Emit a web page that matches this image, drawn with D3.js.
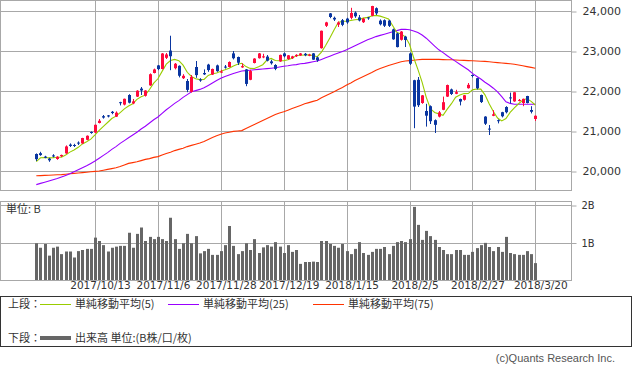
<!DOCTYPE html>
<html><head><meta charset="utf-8">
<script src="https://cdn.jsdelivr.net/npm/d3@7"></script>
<style>body{margin:0;background:#fff}svg{display:block}</style>
</head><body>
<svg id="chart" width="633" height="370"></svg>
<script>
// ---- data ----
const tickIndex = [14, 29, 44, 59, 74, 89, 104, 119];
const tickLabels = ["2017/10/13", "2017/11/6", "2017/11/28", "2017/12/19", "2018/1/15", "2018/2/5", "2018/2/27", "2018/3/20"];
const priceTicks = [20000, 21000, 22000, 23000, 24000];
const priceTickLabels = ["20,000", "21,000", "22,000", "23,000", "24,000"];
const volTicks = [1, 2];
const volTickLabels = ["1B", "2B"];

const open = [20425,20445,20360,20310,20390,20300,20370,20440,20660,20650,20710,20690,20780,20975,20960,21200,21370,21390,21480,21360,
21720,21660,21900,21690,21860,22060,21880,22140,22450,22640,22550,22830,23010,22570,22630,22320,22250,21980,22600,22290,
22450,22660,22410,22640,22460,22610,22600,22940,22850,22590,22540,22280,22700,22820,22840,22860,22740,22650,22740,22940,
22800,22820,22870,22890,22930,22880,22940,22840,23070,23630,23940,23830,23660,23770,23810,23830,23960,23840,23720,23840,
23880,24070,23760,23770,23760,23540,23440,23280,23360,22940,22270,22280,21700,21500,21620,21270,21360,21530,21860,22040,
21930,21800,21780,22070,22400,22320,21900,21360,21060,21380,21270,21470,21600,21840,21740,21760,21700,21875,21525,21300];
const high = [20440,20480,20380,20330,20420,20370,20410,20640,20690,20680,20740,20830,20890,20990,21160,21300,21400,21400,21500,21490,
21730,21810,21920,21800,22020,22100,22020,22440,22560,22650,22950,22950,23382,22700,22640,22420,22300,22400,22750,22320,
22540,22680,22560,22660,22530,22650,22740,23000,22860,22690,22550,22530,22820,22950,22930,22900,22780,22670,22910,22960,
22900,22880,22920,22950,22950,22930,22950,22860,23510,23730,23950,23860,23740,23800,23830,24080,23990,23900,23830,23850,
24130,24090,23790,23790,23780,23560,23460,23500,23380,22960,22280,22350,21900,21680,21640,21290,21500,21860,22160,22060,
22030,21810,21900,22200,22410,22330,21910,21370,21150,21520,21290,21480,21620,21960,21970,21800,21810,21880,21620,21390];
const low = [20250,20380,20320,20230,20340,20280,20350,20430,20600,20600,20650,20680,20770,20930,20950,21190,21310,21340,21420,21350,
21640,21640,21690,21670,21850,21900,21860,22130,22440,22520,22540,22800,22520,22540,22340,22300,21970,21960,22330,22230,
22400,22480,22400,22480,22450,22560,22590,22790,22650,22580,22120,22270,22690,22810,22820,22740,22660,22520,22730,22840,
22780,22800,22850,22880,22870,22870,22780,22730,23060,23600,23820,23750,23600,23620,23680,23790,23830,23740,23700,23780,
23870,23900,23640,23600,23600,23280,23090,23260,23100,22650,21070,21600,21680,21110,21175,20950,21340,21520,21850,21900,
21920,21640,21760,22060,22340,22040,21700,21150,20900,21370,21190,21340,21440,21690,21730,21740,21620,21690,21440,21250];
const close = [20296,20398,20330,20267,20363,20356,20401,20614,20627,20629,20691,20824,20881,20955,21155,21256,21336,21363,21449,21458,
21697,21805,21708,21740,22008,22012,22012,22420,22539,22548,22938,22914,22869,22681,22381,22380,22028,22351,22397,22262,
22416,22523,22551,22496,22486,22597,22725,22819,22707,22622,22177,22498,22811,22939,22866,22758,22694,22553,22902,22868,
22892,22866,22903,22939,22893,22911,22784,22765,23506,23715,23850,23788,23710,23654,23715,23952,23868,23763,23808,23816,
24124,23941,23669,23632,23629,23292,23098,23486,23275,22682,21610,21645,21891,21383,21245,21154,21465,21720,22149,21925,
21971,21736,21893,22154,22390,22068,21724,21182,21042,21418,21253,21368,21469,21824,21968,21777,21804,21700,21481,21381];

const ma5 = [20232,20330,20336,20328,20331,20343,20343,20400,20472,20525,20592,20677,20730,20796,20901,21014,21117,21213,21312,21372,
21461,21554,21623,21682,21792,21855,21896,22038,22198,22306,22491,22672,22762,22790,22757,22645,22468,22364,22307,22284,
22291,22390,22430,22450,22494,22531,22571,22625,22667,22694,22610,22565,22563,22609,22658,22774,22814,22762,22755,22755,
22782,22816,22886,22894,22899,22902,22886,22858,22972,23136,23324,23525,23714,23743,23743,23764,23780,23790,23821,23841,
23876,23890,23872,23836,23799,23633,23464,23427,23356,23167,22830,22540,22221,21842,21555,21464,21428,21393,21547,21683,
21846,21900,21935,21936,22029,22048,22046,21904,21681,21487,21324,21253,21310,21466,21576,21681,21768,21810,21741,21650];
const ma25 = [19660,19690,19720,19750,19780,19810,19850,19890,19930,19980,20030,20080,20130,20190,20250,20320,20390,20460,20540,20610,
20690,20760,20830,20900,20970,21050,21120,21200,21280,21350,21440,21530,21610,21690,21760,21840,21910,21980,22010,22040,
22080,22140,22200,22260,22320,22360,22400,22440,22470,22500,22510,22520,22530,22540,22550,22560,22570,22580,22600,22620,
22630,22650,22660,22680,22690,22710,22730,22750,22790,22830,22870,22910,22950,22990,23030,23080,23130,23180,23230,23280,
23320,23360,23390,23420,23450,23480,23510,23540,23545,23530,23500,23460,23400,23320,23220,23120,23030,22960,22880,22810,
22740,22670,22600,22530,22440,22370,22300,22220,22150,22070,21980,21860,21730,21690,21670,21670,21670,21670,21670,21670];
const ma75 = [19880,19885,19890,19895,19900,19905,19910,19920,19930,19940,19950,19960,19970,19980,19990,20000,20020,20040,20060,20080,
20110,20150,20190,20210,20230,20260,20290,20310,20340,20360,20400,20440,20470,20510,20540,20570,20610,20640,20670,20700,
20740,20790,20840,20880,20920,20950,20970,20990,21000,21010,21060,21110,21160,21210,21260,21310,21360,21410,21450,21480,
21520,21560,21600,21640,21680,21710,21740,21770,21830,21880,21930,21980,22040,22090,22150,22200,22260,22310,22360,22410,
22460,22520,22560,22600,22640,22670,22700,22730,22750,22760,22770,22780,22790,22790,22790,22790,22790,22785,22780,22780,
22775,22770,22765,22760,22755,22750,22745,22740,22730,22720,22710,22700,22690,22680,22670,22650,22630,22610,22590,22570];

const volume = [0.98,0.86,0.96,0.65,0.86,0.89,0.69,0.76,0.76,0.60,0.77,0.80,0.83,0.83,1.13,1.04,0.93,0.76,0.86,0.89,
0.91,0.91,1.26,0.86,1.23,1.40,1.04,1.15,1.09,1.15,1.09,1.04,1.66,1.09,0.83,0.98,1.23,0.98,1.17,0.71,
0.77,0.83,0.67,0.67,0.77,0.93,1.44,0.91,0.69,0.77,0.98,0.80,1.09,0.72,0.87,0.93,0.89,1.01,0.89,0.72,
0.93,0.75,0.80,0.43,0.48,0.48,0.49,0.48,1.04,1.04,0.96,0.91,0.86,0.96,0.77,0.69,0.83,1.01,0.72,0.67,
0.75,0.83,0.83,0.88,0.69,0.91,1.01,1.04,1.01,1.09,1.95,1.47,1.07,1.31,1.17,1.07,0.88,0.80,0.69,0.69,
0.80,0.80,0.67,0.67,0.75,0.85,0.93,0.99,0.88,0.77,0.88,0.75,1.15,0.72,0.69,0.67,0.67,0.77,0.69,0.45];

const legendUpper = [
  {label: "単純移動平均(5)", color: "#99cc00"},
  {label: "単純移動平均(25)", color: "#9900ff"},
  {label: "単純移動平均(75)", color: "#ff3300"}
];
const legendLowerLabel = "出来高 単位:(B株/口/枚)";

// ---- drawing ----
const svg = d3.select("#chart");
const W = 571;
const n = close.length;
const idx = d3.range(n);
const x = d3.scaleLinear().domain([0, n - 1]).range([36.3, 535.3]);
const y = d3.scaleLinear().domain([20000, 24000]).range([171, 11]);
const yv = d3.scaleLinear().domain([0, 2]).range([280, 205]);
const upCol = "#ff0a3c", dnCol = "#0a36a0", gridCol = "#a8a8a8";
const font = "'DejaVu Sans', sans-serif";

const px = v => Math.round(v) + 0.5;

// upper panel
const up = svg.append("g");
up.append("g").selectAll("line").data(priceTicks).join("line")
  .attr("x1", 0).attr("x2", W).attr("y1", d => px(y(d))).attr("y2", d => px(y(d)))
  .attr("stroke", gridCol);
up.append("g").selectAll("line").data(tickIndex).join("line")
  .attr("x1", d => px(x(d))).attr("x2", d => px(x(d))).attr("y1", 0).attr("y2", 190)
  .attr("stroke", gridCol);
up.append("rect").attr("x", 0.5).attr("y", 0.5).attr("width", W).attr("height", 190)
  .attr("fill", "none").attr("stroke", gridCol);

// right axis
const ay = d3.axisRight(y).tickValues(priceTicks).tickSize(5)
  .tickFormat((d, i) => priceTickLabels[i]);
const gAy = svg.append("g").attr("transform", `translate(${W + 0.5},0)`).call(ay);
gAy.select(".domain").remove();
gAy.selectAll("line").attr("stroke", gridCol).attr("transform", "translate(0,0.5)");
gAy.selectAll("text").attr("x", 11).attr("font-family", font).attr("font-size", 11).attr("fill", "#333");

// moving averages
const lineGen = arr => d3.line().x(i => x(i)).y(i => y(arr[i]));
[[ma75, "#ff3300"], [ma25, "#9900ff"], [ma5, "#99cc00"]].forEach(([arr, c]) => {
  up.append("path").attr("d", lineGen(arr)(idx)).attr("fill", "none")
    .attr("stroke", c).attr("stroke-width", 1.1);
});

// candles
const cg = up.append("g");
idx.forEach(i => {
  const o = open[i], c = close[i];
  const col = c >= o ? upCol : dnCol;
  const cx = Math.round(x(i));
  cg.append("line").attr("x1", cx + 0.5).attr("x2", cx + 0.5)
    .attr("y1", y(high[i])).attr("y2", y(low[i])).attr("stroke", col).attr("stroke-width", 1);
  const top = y(Math.max(o, c)), bot = y(Math.min(o, c));
  cg.append("rect").attr("x", cx - 1).attr("width", 3)
    .attr("y", top).attr("height", Math.max(1, bot - top)).attr("fill", col);
});

// lower panel
const lo = svg.append("g");
lo.append("g").selectAll("line").data(volTicks).join("line")
  .attr("x1", 0).attr("x2", W).attr("y1", d => px(yv(d))).attr("y2", d => px(yv(d)))
  .attr("stroke", gridCol);
lo.append("g").selectAll("line").data(tickIndex).join("line")
  .attr("x1", d => px(x(d))).attr("x2", d => px(x(d))).attr("y1", 201).attr("y2", 280)
  .attr("stroke", gridCol);
lo.selectAll("rect.v").data(idx).join("rect").attr("class", "v")
  .attr("x", i => Math.round(x(i)) - 1).attr("width", 3)
  .attr("y", i => yv(volume[i])).attr("height", i => 280 - yv(volume[i]))
  .attr("fill", "#666");
lo.append("rect").attr("x", 0.5).attr("y", 201.5).attr("width", W).attr("height", 79)
  .attr("fill", "none").attr("stroke", gridCol);
const avy = d3.axisRight(yv).tickValues(volTicks).tickSize(5)
  .tickFormat((d, i) => volTickLabels[i]);
const gAv = svg.append("g").attr("transform", `translate(${W + 0.5},0)`).call(avy);
gAv.select(".domain").remove();
gAv.selectAll("line").attr("stroke", gridCol).attr("transform", "translate(0,0.5)");
gAv.selectAll("text").attr("x", 10).attr("font-family", "'Liberation Sans Narrow','DejaVu Sans Condensed',sans-serif")
  .attr("font-size", 11).attr("fill", "#333");
svg.append("text").attr("x", 6).attr("y", 213).text("単位: B")
  .attr("font-family", "'Noto Sans CJK JP', sans-serif").attr("font-size", 11).attr("fill", "#333");

// x axis labels
const ax = d3.axisBottom(x).tickValues(tickIndex).tickSize(0)
  .tickFormat((d, i) => tickLabels[i]);
const gAx = svg.append("g").attr("transform", "translate(5,282)").call(ax);
gAx.select(".domain").remove();
gAx.selectAll("text").attr("y", 0).attr("dy", "0.71em")
  .attr("font-family", font).attr("font-size", 10.5).attr("fill", "#333");

// legend
const lg = svg.append("g");
lg.append("rect").attr("x", 0.5).attr("y", 296.5).attr("width", 631).attr("height", 50)
  .attr("fill", "none").attr("stroke", "#333");
const jp = "'Noto Sans CJK JP', sans-serif";
lg.append("text").attr("x", 8).attr("y", 308).text("上段：").attr("font-family", jp).attr("font-size", 11).attr("fill", "#333");
const legX = [40, 168, 313];
legendUpper.forEach((d, i) => {
  lg.append("line").attr("x1", legX[i]).attr("x2", legX[i] + 31).attr("y1", 304.5).attr("y2", 304.5)
    .attr("stroke", d.color).attr("stroke-width", 1);
  lg.append("text").attr("x", legX[i] + 35).attr("y", 308).text(d.label)
    .attr("font-family", jp).attr("font-size", 11).attr("fill", "#333");
});
lg.append("text").attr("x", 8).attr("y", 342).text("下段：").attr("font-family", jp).attr("font-size", 11).attr("fill", "#333");
lg.append("line").attr("x1", 40).attr("x2", 71).attr("y1", 338).attr("y2", 338)
  .attr("stroke", "#666").attr("stroke-width", 4);
lg.append("text").attr("x", 75).attr("y", 342).text(legendLowerLabel)
  .attr("font-family", jp).attr("font-size", 11).attr("fill", "#333");

svg.append("text").attr("x", 615).attr("y", 362).attr("text-anchor", "end")
  .text("(c)Quants Research Inc.").attr("font-family", "'Liberation Sans', sans-serif")
  .attr("font-size", 11).attr("fill", "#555");
</script>
</body></html>
